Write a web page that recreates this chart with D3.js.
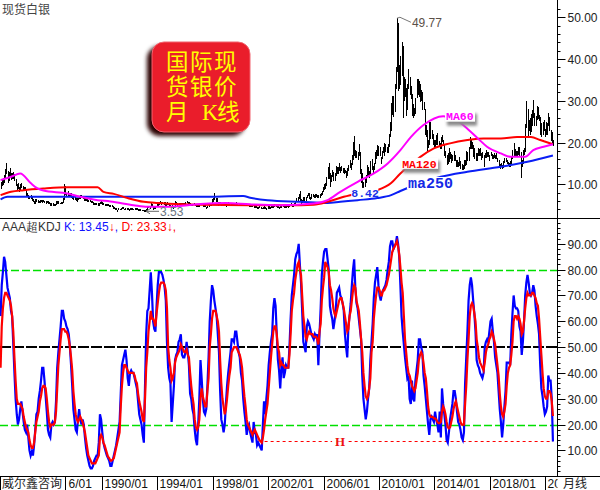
<!DOCTYPE html>
<html><head><meta charset="utf-8">
<script src="https://cdn.jsdelivr.net/npm/d3@7/dist/d3.min.js"></script>
<style>
body{margin:0;background:#fff;}
svg{display:block;font-family:"Liberation Sans",Arial,sans-serif;}
</style></head><body>
<svg id="c" width="600" height="490"></svg>
<script>
// ---- data ----
const startYear = 1982, startMon = 9;   // first monthly bar: 1982-09, last: 2022-07
const priceLow = [
 9.0,9.8,10.0,10.5,
 11.5,12.5,10.5,11.0,12.0,11.2,11.3,11.5,11.0,9.6,8.8,9.0,
 8.2,8.8,9.2,8.6,8.6,8.4,7.2,7.0,6.6,6.5,6.6,6.2,
 5.8,5.4,5.5,5.9,5.7,5.7,5.7,5.8,5.7,5.8,5.7,5.5,
 5.6,5.5,5.3,5.0,5.0,5.0,4.9,4.9,5.2,5.5,5.4,5.3,
 5.4,5.4,5.6,6.4,7.5,7.1,7.2,7.0,7.2,6.8,6.6,6.4,
 6.3,6.2,6.0,6.3,6.5,6.6,6.8,6.5,6.2,6.1,6.2,6.0,
 5.8,5.8,5.7,5.6,5.2,5.1,5.2,5.1,5.0,5.0,5.3,5.5,
 5.1,5.1,4.9,4.95,5.0,4.9,4.8,4.8,4.7,4.2,4.1,4.0,
 3.9,3.6,3.9,3.9,4.0,4.3,4.1,3.9,4.0,4.0,4.0,3.8,
 4.0,4.0,4.0,3.9,3.95,4.0,3.9,3.7,3.7,3.7,3.7,3.7,
 3.6,3.53,3.6,3.9,4.4,4.3,5.0,4.6,4.0,4.2,4.3,4.9,
 5.0,5.1,5.3,5.2,5.3,5.2,5.0,5.0,5.2,5.1,4.8,4.6,
 4.6,4.3,4.4,4.7,5.1,5.0,5.0,5.3,5.3,5.2,5.2,5.1,
 5.3,5.6,5.5,5.3,5.2,5.0,5.0,5.1,4.9,4.7,4.7,4.7,
 4.7,5.1,5.1,4.6,4.7,4.7,4.2,4.4,4.7,4.9,5.0,5.5,
 5.8,6.3,6.0,5.9,5.0,5.1,5.3,4.9,4.9,4.9,4.9,4.8,
 5.0,5.3,5.0,5.0,5.0,5.0,5.1,5.1,5.2,5.1,5.0,5.1,
 5.1,5.2,4.9,4.95,4.9,4.9,4.9,4.8,4.8,4.7,4.6,4.5,
 4.5,4.4,4.3,4.3,4.4,4.3,4.2,4.2,4.2,4.1,4.0,4.1,
 4.2,4.3,4.4,4.5,4.5,4.7,4.6,4.5,4.5,4.3,4.4,4.5,
 4.7,4.4,4.4,4.5,4.6,4.5,4.7,4.9,4.8,4.8,5.0,5.2,
 6.1,6.2,6.7,6.1,5.5,5.6,6.0,6.2,6.2,6.8,7.2,6.6,
 6.3,6.6,7.0,6.9,6.9,7.0,6.9,6.8,6.9,7.2,7.6,8.2,
 8.8,9.0,9.8,11.5,11.5,9.5,10.6,11.9,11.0,11.0,12.0,12.5,
 12.6,13.2,12.8,13.2,12.8,12.6,12.8,11.6,12.0,13.4,14.0,13.5,
 14.8,16.0,17.0,16.5,16.3,16.0,17.0,12.5,10.4,8.4,8.8,9.5,
 10.5,12.0,12.0,11.6,12.0,13.5,12.6,13.6,15.0,16.2,17.0,16.8,
 16.8,15.1,16.2,17.5,17.0,17.8,17.5,17.6,19.0,21.5,23.0,26.8,
 26.3,27.5,33.0,37.0,32.5,33.0,33.9,36.0,26.0,30.0,31.0,26.5,
 28.0,33.0,31.5,30.5,26.5,26.1,26.5,27.0,30.8,31.5,31.0,29.8,
 30.0,28.0,28.0,22.0,21.5,18.2,18.8,19.5,21.0,21.0,19.5,18.8,
 19.0,19.5,19.5,19.0,18.6,18.6,20.2,19.2,17.0,16.3,14.8,15.0,
 15.5,16.2,15.3,15.6,15.8,15.6,14.3,14.3,14.2,14.4,13.9,13.6,
 13.6,13.8,14.6,14.8,15.8,15.7,18.5,18.5,18.5,16.7,16.2,15.6,
 15.8,17.0,16.8,16.8,16.0,16.4,14.3,16.4,16.5,16.6,16.6,15.6,
 16.9,16.2,16.2,16.3,16.1,16.1,15.4,14.3,13.9,14.3,13.9,14.0,
 15.3,15.5,14.9,14.7,14.3,14.3,15.0,16.1,16.8,17.0,16.7,16.6,
 17.2,16.9,11.6,14.2,14.9,17.2,17.8,23.6,21.7,23.0,21.9,22.6,
 24.2,26.0,24.0,24.0,25.6,25.8,25.2,22.0,21.4,21.9,23.0,21.4,
 22.0,22.0,24.0,22.8,20.5,20.1,19.3
];
const priceHigh = [
 10.5,11.0,11.3,12.2,
 13.5,14.9,13.0,12.8,13.8,12.5,12.6,12.8,12.4,11.2,10.0,10.2,
 9.2,9.9,10.1,9.5,9.3,9.2,8.4,7.9,7.3,7.1,7.2,6.9,
 6.4,6.0,6.3,6.4,6.1,6.0,6.1,6.2,6.1,6.2,6.0,5.8,
 6.0,5.8,5.7,5.5,5.4,5.3,5.2,5.2,5.8,5.9,5.8,5.5,
 5.6,5.6,6.5,9.9,9.5,7.9,8.2,7.8,7.8,7.7,7.0,7.0,
 6.8,6.6,6.5,6.6,6.8,7.3,7.2,6.9,6.6,6.5,6.6,6.3,
 6.2,6.1,6.0,5.9,5.6,5.3,5.5,5.3,5.3,5.3,5.7,5.8,
 5.6,5.3,5.2,5.15,5.2,5.1,5.0,5.0,4.9,4.6,4.4,4.3,
 4.2,3.8,4.1,4.0,4.2,4.5,4.4,4.0,4.2,4.1,4.1,4.0,
 4.2,4.2,4.1,4.0,4.1,4.1,4.1,3.9,3.85,3.85,3.8,3.8,
 3.75,3.7,4.0,4.6,4.7,4.6,5.4,5.2,4.6,4.5,4.6,5.2,
 5.3,5.6,5.8,5.6,5.6,5.6,5.6,5.4,5.7,5.4,5.4,4.9,
 4.9,4.7,4.8,5.9,5.6,5.3,5.5,5.4,5.5,5.4,5.4,5.3,
 5.6,5.8,5.7,5.6,5.4,5.2,5.15,5.3,5.2,4.9,4.9,4.9,
 4.9,5.4,5.3,4.9,4.9,4.9,4.4,4.7,4.9,5.3,5.3,6.3,
 6.5,7.9,6.7,6.6,5.7,5.6,5.6,5.3,5.3,5.2,5.2,5.0,
 5.2,5.7,5.4,5.3,5.2,5.2,5.5,5.3,5.6,5.5,5.2,5.4,
 5.4,5.4,5.1,5.1,5.1,5.1,5.1,5.0,5.0,4.9,4.8,4.8,
 4.7,4.6,4.5,4.4,4.6,4.5,4.3,4.35,4.7,4.4,4.2,4.6,
 4.6,4.5,4.7,4.6,5.0,5.1,5.0,4.6,4.6,4.5,4.6,4.8,
 4.9,4.7,4.6,4.6,4.9,4.6,5.2,5.3,5.2,5.1,5.4,6.0,
 6.6,6.8,7.6,8.3,6.4,6.1,6.8,6.9,6.9,7.4,7.8,7.7,
 6.9,7.5,7.6,7.3,7.5,7.5,7.3,7.2,7.5,7.8,8.3,9.2,
 10.0,10.2,11.6,14.0,14.9,12.5,12.2,13.3,12.8,12.5,14.2,14.0,
 14.0,14.9,14.0,14.2,13.8,13.8,13.3,13.0,13.8,14.5,15.8,15.0,
 17.0,20.0,21.4,18.0,17.8,17.7,19.5,17.5,13.5,12.5,10.5,11.5,
 12.0,14.5,14.0,13.0,15.5,16.0,14.2,15.0,17.5,18.0,19.2,19.0,
 18.8,16.5,17.8,18.8,19.8,19.5,18.8,19.5,22.0,24.8,29.3,31.0,
 31.0,34.0,38.0,49.77,48.5,38.5,40.5,44.0,43.0,35.5,35.0,33.0,
 34.0,37.5,35.5,33.5,31.5,29.0,28.2,30.5,35.0,35.0,34.6,34.0,
 32.5,32.0,29.5,28.0,24.0,23.0,20.5,25.0,24.8,23.0,22.0,20.5,
 20.5,21.8,22.2,20.2,19.8,21.2,21.6,20.6,19.6,17.9,16.8,17.4,
 18.5,17.6,17.2,16.9,17.8,16.9,15.7,15.7,15.3,16.4,15.4,14.7,
 14.5,15.6,15.8,17.8,17.7,18.9,21.2,20.5,20.0,19.2,18.6,17.3,
 17.4,18.5,18.4,18.6,17.4,17.7,17.0,17.3,18.2,17.5,17.5,17.0,
 17.7,17.1,16.9,17.3,16.8,17.3,16.2,15.6,14.7,14.9,14.6,15.5,
 16.2,16.1,15.6,15.2,14.9,15.5,16.6,18.0,19.7,18.4,17.9,17.9,
 18.9,18.8,17.6,15.8,18.1,18.6,24.4,29.9,28.0,25.4,25.8,26.8,
 27.6,30.1,26.9,26.2,28.7,28.3,26.5,25.9,24.5,24.8,25.4,23.2,
 24.7,24.6,26.9,26.0,23.0,22.5,20.4
];
const ma60Dates = ["1982-09","1983-06","1984-02","1984-11","1985-05","1985-10","1987-07","1988-06","1989-09","1990-08","1992-04","1993-04","1994-10","1996-03","1997-02","1998-12","2000-09","2002-11","2005-04","2006-04","2007-03","2008-06","2009-08","2010-08","2011-07","2012-04","2013-03","2014-08","2015-07","2016-03","2017-02","2017-10","2018-10","2019-06","2020-07","2021-02","2021-11","2022-07"];
const ma60Values = [11,11.8,12.6,10.3,9,8.5,7.8,7.0,6.2,5.9,5.0,4.6,4.6,5.0,5.3,5.5,5.2,5.0,5.4,6.2,8.2,10.6,12.6,15,18.2,21.3,24.2,26.3,25.5,23.8,21,19,17.4,16.6,16.6,18.2,19,19.6];
const ma120Dates = ["1982-09","1983-06","1984-05","1985-10","1987-07","1989-09","1990-02","1990-11","1991-11","1993-01","1994-01","1995-11","1997-02","2000-09","2004-05","2005-04","2006-04","2007-06","2008-09","2009-11","2010-11","2011-07","2012-04","2012-12","2013-12","2015-02","2016-05","2017-07","2018-10","2019-12","2020-12","2021-08","2022-07"];
const ma120Values = [7.4,8.2,8.6,9.0,9.3,9.3,8.2,7.7,6.7,5.8,5.5,5.2,5.1,5.0,5.0,5.1,5.8,7.0,7.9,8.6,10.3,12.6,14.6,16.5,18.6,19.8,20.6,21.0,21.0,21.3,21.3,20.6,19.6];
const ma250Dates = ["1982-09","1983-03","1985-02","1993-07","1997-02","2000-03","2000-09","2001-12","2004-05","2006-04","2007-03","2008-06","2009-11","2010-11","2011-07","2014-06","2016-05","2018-10","2020-09","2022-07"];
const ma250Values = [6.4,7.0,7.0,7.0,7.0,7.2,6.8,6.2,5.8,5.5,5.8,6.2,6.7,7.4,8.4,11.8,13.0,14.2,15.4,16.9];
const kValues = [
 62,74,79,85,83,78,73,71,69,64, 62,51,40,30,24,20,22,26,29,25,
 21,18,17,20,15,10,8,9.5,8,12, 18,24,25,30,33,37,42,42,37,31,
 25,18,16,15,20,21,20,21,29,42, 48,53,58,64,64,61,60,58,57,55,
 50,43,35,26,22,18,17,22,26,22, 20,22,20,15,11,8,6,4,3,3,
 4,6,7,8,8,13,24,22,17,13, 11,9.5,8,7,6,4,4,6,8,10,
 12,15,18,21,32,43,45,47,49,45, 38,35,40,41,40,40,38,36,34,29,
 24,22,20,16,13,35,55,64,65,72, 79,71,60,57,56,66,74,79,79,79,
 78,76,73,68,52,42,38,36,21,28, 35,45,47,48,52,53,55,47,46,46,
 48,52,48,43,32,30,26,24,18,14, 12,20,30,45,38,30,25,24,26,35,
 46,60,68,74,72,68,65,62,55,48, 33,22,20,17,20,28,35,40,44,48,
 53,53,52,56,56,52,48,46,40,37, 30,25,21,16,19,20,17,15,13,21,
 17,16,12,13,12,11,10,20,29,24, 30,35,43,48,52,55,65,69,66,55,
 45,41,34,42,46,38,40,43,42,42, 50,61,70,74,78,84,86,87,90,82,
 75,64,52,50,48,58,60,59,57,55, 54,53,55,54,55,43,55,65,78,83,
 87,88,88,84,80,66,63,61,57,60, 64,71,72,73,70,69,67,64,55,50,
 46,58,62,67,74,80,84,73,67,65, 61,57,53,39,30,26,22,25,30,34,
 45,52,59,69,75,78,81,74,70,68, 71,72,73,74,76,80,83,89,91,91,
 88,89,90,93,90,85,74,62,56,51, 46,42,38,39,30,28,37,30,29,37,
 41,45,53,53,50,48,39,35,30,25, 20,16,22,23,22,21,25,22,20,17,
 25,15,34,28,24,20,14,13,17,22, 25,28,33,33,30,25,21,20,18,15,
 14,17,36,46,56,68,74,77,74,68, 63,56,45,43,42,40,39,38,40,50,
 52,53,52,56,60,61,56,52,46,43, 40,33,26,21,15,20,27,33,44,44,
 44,43,55,63,70,66,65,65,64,58, 56,47,52,60,70,75,78,75,71,70,
 71,74,72,66,62,59,55,43,34,31, 27,24,25,27,39,37,37,30,13.45
];
const dValues = [
 42,58,65,69,71,71,70,69,68,66, 62,56,46,37,30,28,28,28,27,26,
 23,21,19,18,17,14,12,11,11,13, 17,21,23,25,29,31,34,35,35,34,
 30,25,21,19,20,20,20,21,25,34, 43,48,53,57,57,57,56,56,55,53,
 50,46,41,33,28,24,22,21,22,23, 22,21,19,17,14,11,8,7,6,5,
 5,5,5,6,7,8,15,16,15,13, 12,10.5,9,7.5,7,6,6,6.5,7,9,
 11,13,15,17,27,35,40,43,43,42, 41,40,40,40,40,40,39,37,36,32,
 29,27,25,22,21,30,42,48,56,60, 64,61,61,60,58,63,67,71,74,75,
 75,75,74,72,65,50,45,42,37,38, 40,44,46,47,48,49,51,50,49,48,
 48,49,47,46,40,35,31,28,22,19, 18,19,22,30,34,31,29,27,27,33,
 38,50,55,61,64,64,64,62,60,56, 45,36,30,27,24,26,30,35,39,42,
 48,49,50,50,50,49,48,47,45,42, 36,31,27,22,20,19,18,17,16,17,
 18,17,16,15,14,13.5,13,15,18,22, 25,28,34,40,46,51,56,58,58,55,
 50,48,43,44,43,43,42,42,42,42, 47,55,64,68,71,76,79,82,83,80,
 78,70,62,58,54,53,55,56,55,55, 55,54,54,54,53,51,56,59,68,73,
 77,83,82,81,79,74,72,69,65,63, 62,64,66,68,69,69,67,65,62,59,
 56,57,62,64,68,72,74,73,68,66, 64,59,53,48,40,35,31,30,31,34,
 38,48,52,61,66,70,73,73,72,70, 70,72,72,73,74,76,78,81,84,87,
 88,89,90,91,89,86,81,75,71,62, 53,48,43,40,39,37,35,34,33,34,
 37,40,45,47,48,47,44,40,38,33, 27,24,23,23,23,22.4,22.4,22,21,20.5,
 20.5,21,25,27,26,24,21,19,18.5,19, 21,23,26,28,29,27,25,23,21,20,
 20,20,28,35,45,53,62,66,67,66, 63,60,53,50,46,44,43,42,41,44,
 48,50,51,53,54,56,55,53,51,47, 43,39,32,27,24,23,25,28,35,40,
 42,43,47,52,60,62,62,61,62,61, 59,55,56,60,65,69,71,70,70,70,
 71,71,70,69,67,66,61,54,47,40, 34,31,30,30,33,33,32,29,23.33
];
const priceTicks = [10,20,30,40,50];
const kdjTicks = [10,20,30,40,50,60,70,80,90];
const kdjRefGreen = [20,80];
const kdjRefBlack = 50;
const xTickLabels = ["1986/01","1990/01","1994/01","1998/01","2002/01","2006/01","2010/01","2014/01","2018/01","2022/01"];
const peakPoint = {date:"2011-04", value:49.77};
const lowPoint = {date:"1993-02", value:3.53};
const low2008 = {date:"2008-01", value:8.42};
const hLineStart = "2001-10";

// ---- drawing ----
const svg = d3.select("#c");
const idx = s => { const [yy, mm] = s.split(/[-\/]/).map(Number); return (yy - startYear) * 12 + (mm - startMon); };
const n = priceHigh.length;
const AX = 557.5;
const x = d3.scaleLinear().domain([0, n]).range([0, 553.5]);
const yP = d3.scaleLinear().domain([0, 50]).range([226.05, 17.3]);
const yK = d3.scaleLinear().domain([0, 100]).range([476.2, 218.0]);

const defs = svg.append("defs");
defs.append("clipPath").attr("id","clipTop").append("rect").attr("x",0).attr("y",0).attr("width",AX).attr("height",218);
defs.append("clipPath").attr("id","clipBot").append("rect").attr("x",0).attr("y",220).attr("width",AX).attr("height",256);
defs.append("clipPath").attr("id","clipX").append("rect").attr("x",66).attr("y",477).attr("width",AX-66).attr("height",13);
const fb = defs.append("filter").attr("id","blur3").attr("x","-30%").attr("y","-30%").attr("width","160%").attr("height","160%");
fb.append("feGaussianBlur").attr("stdDeviation",2.2);
const fb2 = defs.append("filter").attr("id","blur2").attr("x","-40%").attr("y","-60%").attr("width","180%").attr("height","220%");
fb2.append("feGaussianBlur").attr("stdDeviation",1.6);

svg.append("rect").attr("width",600).attr("height",490).attr("fill","#fff");

// top panel
const topG = svg.append("g").attr("clip-path","url(#clipTop)");
topG.append("g").selectAll("line").data(priceHigh).join("line")
  .attr("x1",(d,i)=>Math.round(x(i+0.5))+0.5).attr("x2",(d,i)=>Math.round(x(i+0.5))+0.5)
  .attr("y1",(d,i)=>yP(priceLow[i])+0.5).attr("y2",d=>yP(d)-0.5)
  .attr("stroke","#000").attr("stroke-width",1).attr("shape-rendering","crispEdges");

function maLine(dates, vals, color){
  const pts = dates.map((d,i)=>[x(idx(d)+0.5), yP(vals[i])]);
  topG.append("path").attr("d", d3.line().curve(d3.curveMonotoneX)(pts))
    .attr("fill","none").attr("stroke",color).attr("stroke-width",2);
}
maLine(ma250Dates, ma250Values, "#0a1ef5");
maLine(ma120Dates, ma120Values, "#ff0000");
maLine(ma60Dates, ma60Values, "#ff00ff");

// annotations top
const pk = [x(idx(peakPoint.date)+0.5), yP(peakPoint.value)];
svg.append("path").attr("d",`M${pk[0]},${pk[1]} L${pk[0]+3},${pk[1]-1} L${pk[0]+14},${pk[1]+4}`).attr("fill","none").attr("stroke","#777").attr("stroke-width",1);
svg.append("text").attr("x",pk[0]+15).attr("y",pk[1]+9).attr("font-size",12).attr("fill","#5b5048").text(peakPoint.value.toFixed(2));
const lp = [x(idx(lowPoint.date)+0.5), yP(lowPoint.value)];
svg.append("path").attr("d",`M${lp[0]+1},${lp[1]} L${lp[0]+14},${lp[1]} M${lp[0]+1},${lp[1]} l4,-2.5 M${lp[0]+1},${lp[1]} l4,2.5`).attr("fill","none").attr("stroke","#666").attr("stroke-width",1);
svg.append("text").attr("x",lp[0]+15).attr("y",lp[1]+5).attr("font-size",12).attr("fill","#6a7480").text(lowPoint.value.toFixed(2));
const l8 = [x(idx(low2008.date)), yP(low2008.value)];
svg.append("rect").attr("x",l8[0]).attr("y",l8[1]-3).attr("width",27).attr("height",9).attr("fill","#fff");
svg.append("text").attr("x",l8[0]).attr("y",l8[1]+6).attr("font-size",11.5).attr("font-weight","bold")
  .attr("font-family","Liberation Mono, monospace").attr("fill","#1830e8").text(low2008.value.toFixed(2));

function maLabel(date, val, txt, color, size, shadow, w, h){
  const lx = x(idx(date)), ly = yP(val);
  if (shadow) svg.append("rect").attr("x",lx+1).attr("y",ly-h/2+3).attr("width",w).attr("height",h).attr("fill","#8a8a8a").attr("filter","url(#blur2)");
  svg.append("rect").attr("x",lx-1).attr("y",ly-h/2).attr("width",w).attr("height",h-1).attr("fill","#fff");
  svg.append("text").attr("x",lx).attr("y",ly+size*0.33).attr("font-size",size).attr("font-weight","bold")
    .attr("font-family","Liberation Mono, monospace").attr("fill",color).text(txt);
}
maLabel("2014-11", 26.2, "MA60", "#ff00ff", 11.5, true, 30, 12);
maLabel("2011-09", 14.9, "MA120", "#ff0000", 11.5, true, 37, 12);
maLabel("2012-02", 10.2, "ma250", "#1428e6", 15, false, 47, 13);

// Title box
const bx = 152, by = 42, bw = 98, bh = 90;
svg.append("rect").attr("x",bx-5).attr("y",by+4).attr("width",bw).attr("height",bh).attr("rx",13)
  .attr("fill","#2a0000").attr("filter","url(#blur3)");
svg.append("rect").attr("x",bx).attr("y",by).attr("width",bw).attr("height",bh).attr("rx",12)
  .attr("fill","#ea1d2b").attr("stroke","#f26570").attr("stroke-width",1);
const tF = "'Noto Sans CJK SC', sans-serif";
const boxFont = "'Liberation Serif','Noto Sans CJK SC',serif";
const titleG = svg.append("g").attr("font-family",boxFont).attr("font-size",22.5).attr("fill","#ffff00");
titleG.append("text").attr("x",166).attr("y",70).attr("letter-spacing",1.5).text("国际现");
titleG.append("text").attr("x",166).attr("y",95).attr("letter-spacing",1.5).text("货银价");
const t3 = titleG.append("text").attr("y",120);
t3.append("tspan").attr("x",166).text("月");
t3.append("tspan").attr("x",202).text("K");
t3.append("tspan").attr("x",217).text("线");

svg.append("text").attr("x",2).attr("y",14).attr("font-family",tF).attr("font-size",12).attr("fill","#444").text("现货白银");

// bottom panel
const botG = svg.append("g").attr("clip-path","url(#clipBot)");
kdjRefGreen.forEach(v=>{
  botG.append("line").attr("x1",0).attr("x2",AX).attr("y1",Math.round(yK(v))+0.5).attr("y2",Math.round(yK(v))+0.5)
    .attr("stroke","#00e000").attr("stroke-width",1.3).attr("stroke-dasharray","8,3");
});
botG.append("line").attr("x1",0).attr("x2",AX).attr("y1",yK(kdjRefBlack)).attr("y2",yK(kdjRefBlack))
  .attr("stroke","#000").attr("stroke-width",2).attr("stroke-dasharray","11,2");
const hy = Math.round(yK(kValues[n-1]))+0.5;
botG.append("line").attr("x1",x(idx(hLineStart))).attr("x2",x(n-0.5)).attr("y1",hy).attr("y2",hy)
  .attr("stroke","#ff0000").attr("stroke-width",1).attr("stroke-dasharray","3,3");
const hx = x(idx("2006-11"));
botG.append("rect").attr("x",hx-3).attr("y",hy-6).attr("width",14).attr("height",12).attr("fill","#fff");
botG.append("text").attr("x",hx).attr("y",hy+4.5).attr("font-family","Liberation Serif, serif").attr("font-weight","bold")
  .attr("font-size",13).attr("fill","#ee1111").text("H");

const kl = d3.line().x((d,i)=>x(i+0.5)).y(d=>yK(d));
botG.append("path").attr("d",kl(kValues)).attr("fill","none").attr("stroke","#0000ff").attr("stroke-width",2.2);
botG.append("path").attr("d",kl(dValues)).attr("fill","none").attr("stroke","#ff0000").attr("stroke-width",2.2);

// KDJ legend
const lg = svg.append("text").attr("x",2).attr("y",231).attr("font-size",12);
lg.append("tspan").attr("fill","#333").text("AAA超KDJ ");
lg.append("tspan").attr("fill","#1010ff").text("K: " + kValues[n-1].toFixed(2));
lg.append("tspan").attr("fill","#ff0000").text("↓");
lg.append("tspan").attr("fill","#1010ff").text(", ");
lg.append("tspan").attr("fill","#ff0000").text("D: " + dValues[n-1].toFixed(2) + "↓,");

// frame lines
svg.append("line").attr("x1",0).attr("x2",600).attr("y1",218.5).attr("y2",218.5).attr("stroke","#000");
svg.append("line").attr("x1",0).attr("x2",600).attr("y1",476.5).attr("y2",476.5).attr("stroke","#000");
svg.append("line").attr("x1",AX).attr("x2",AX).attr("y1",0).attr("y2",477).attr("stroke","#000");

// right axes
function rightAxis(scale, ticks, minorStep, lo, hi, yMin, yMax){
  const g = svg.append("g");
  for (let v = lo; v <= hi; v += minorStep){
    const yy = Math.round(scale(v))+0.5;
    if (yy < yMin || yy > yMax) continue;
    g.append("line").attr("x1",AX).attr("x2",AX+3).attr("y1",yy).attr("y2",yy).attr("stroke","#000");
  }
  ticks.forEach(v=>{
    const yy = Math.round(scale(v))+0.5;
    g.append("line").attr("x1",AX).attr("x2",AX+8).attr("y1",yy).attr("y2",yy).attr("stroke","#000");
    g.append("text").attr("x",AX+10).attr("y",yy+4.5).attr("font-size",12).attr("fill","#222").text(v.toFixed(2));
  });
}
rightAxis(yP, priceTicks, 2, 2, 54, 2, 216);
rightAxis(yK, kdjTicks, 2, 2, 98, 222, 474);

// x axis: labels are cut where the side boxes cover them, as in the source chart
const xa = svg.append("g");
const xl = svg.append("g").attr("clip-path","url(#clipX)");
const leftEdge = 66, rightEdge = 563;
xTickLabels.forEach(t=>{
  const xx = Math.round(x(idx(t)))+0.5;
  if (xx > leftEdge) xa.append("line").attr("x1",xx).attr("x2",xx).attr("y1",477).attr("y2",490).attr("stroke","#000");
  const node = xl.append("text").attr("x",xx+2).attr("y",488).attr("font-size",12).attr("fill","#111").text(t);
  let s = t, sx = xx + 2;
  while (s.length && sx < leftEdge) {
    const full = node.node().getComputedTextLength();
    s = s.slice(1); node.text(s);
    sx += full - node.node().getComputedTextLength();
    node.attr("x", sx);
  }
  while (s.length && sx + node.node().getComputedTextLength() > rightEdge) {
    s = s.slice(0, -1); node.text(s);
  }
});
svg.append("line").attr("x1",65.5).attr("x2",65.5).attr("y1",477).attr("y2",490).attr("stroke","#000");
svg.append("line").attr("x1",0.5).attr("x2",0.5).attr("y1",477).attr("y2",490).attr("stroke","#000");
svg.append("text").attr("x",2).attr("y",488).attr("font-family",tF).attr("font-size",12).attr("fill","#222").text("威尔鑫咨询");
svg.append("text").attr("x",AX+5.5).attr("y",488).attr("font-family",tF).attr("font-size",12).attr("fill","#222").text("月线");
</script>
</body></html>
